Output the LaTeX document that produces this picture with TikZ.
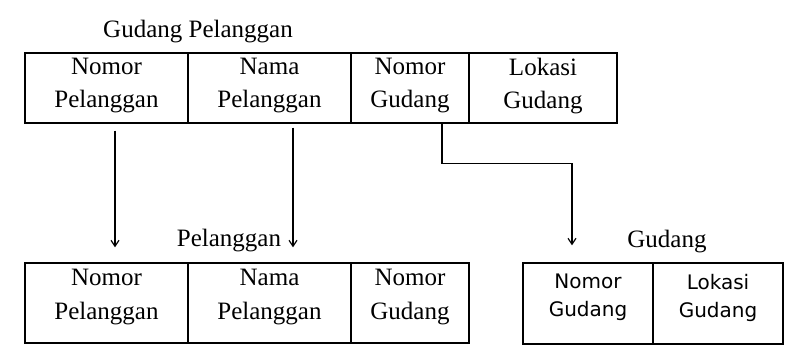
\documentclass[tikz,border=0pt]{standalone}
\usepackage{fontspec}
\setmainfont{Liberation Serif}
\newfontfamily\cellsans{DejaVu Sans}
\usetikzlibrary{arrows.meta}
\begin{document}
\begin{tikzpicture}[x=1pt, y=-1pt,
  cell/.style={draw, line width=1.3pt, inner sep=0pt, align=center, font=\fontsize{25}{33}\selectfont},
  title/.style={inner sep=0pt, font=\fontsize{25}{30}\selectfont},
  arrow/.style={-{Straight Barb[length=6pt,width=8pt]}, line width=1.2pt}
]
\useasboundingbox (0,0) rectangle (797,352);
% Gudang Pelanggan
\node[title] (gpTitle) at (198,32) {Gudang Pelanggan};
\node[cell, minimum width=163pt, minimum height=70pt, text depth=10pt] (gpNoPel) at (106.5,88) {Nomor\\Pelanggan};
\node[cell, minimum width=163pt, minimum height=70pt, text depth=10pt] (gpNaPel) at (269.5,88) {Nama\\Pelanggan};
\node[cell, minimum width=118pt, minimum height=70pt, text depth=10pt] (gpNoGud) at (410,88) {Nomor\\Gudang};
\node[cell, minimum width=148pt, minimum height=70pt, text depth=10pt] (gpLokGud) at (543,88) {Lokasi\\Gudang};
% Pelanggan
\node[title] (pTitle) at (229,241) {Pelanggan};
\node[cell, minimum width=163pt, minimum height=80pt, text depth=17pt, font=\fontsize{25}{34}\selectfont] (pNoPel) at (106.5,303) {Nomor\\Pelanggan};
\node[cell, minimum width=163pt, minimum height=80pt, text depth=17pt, font=\fontsize{25}{34}\selectfont] (pNaPel) at (269.5,303) {Nama\\Pelanggan};
\node[cell, minimum width=118pt, minimum height=80pt, text depth=17pt, font=\fontsize{25}{34}\selectfont] (pNoGud) at (410,303) {Nomor\\Gudang};
% Gudang
\node[title] (gTitle) at (667,242) {Gudang};
\node[cell, minimum width=130pt, minimum height=81pt, text depth=16pt, font=\cellsans\fontsize{20}{28}\selectfont] (gNoGud) at (588,303.5) {Nomor\\Gudang};
\node[cell, minimum width=130pt, minimum height=81pt, text depth=16pt, font=\cellsans\fontsize{20}{28}\selectfont] (gLokGud) at (718,303.5) {Lokasi\\Gudang};
% arrows
\draw[arrow] ([xshift=8.5pt,yshift=-7pt]gpNoPel.south) -- ([xshift=8.5pt,yshift=15pt]pNoPel.north);
\draw[arrow] ([xshift=23.5pt,yshift=-4pt]gpNaPel.south) -- ([xshift=23.5pt,yshift=15pt]pNaPel.north);
\draw[arrow] ([xshift=32pt]gpNoGud.south) -- ++(0,40) -| ([xshift=-16pt,yshift=17pt]gNoGud.north);
\end{tikzpicture}
\end{document}
